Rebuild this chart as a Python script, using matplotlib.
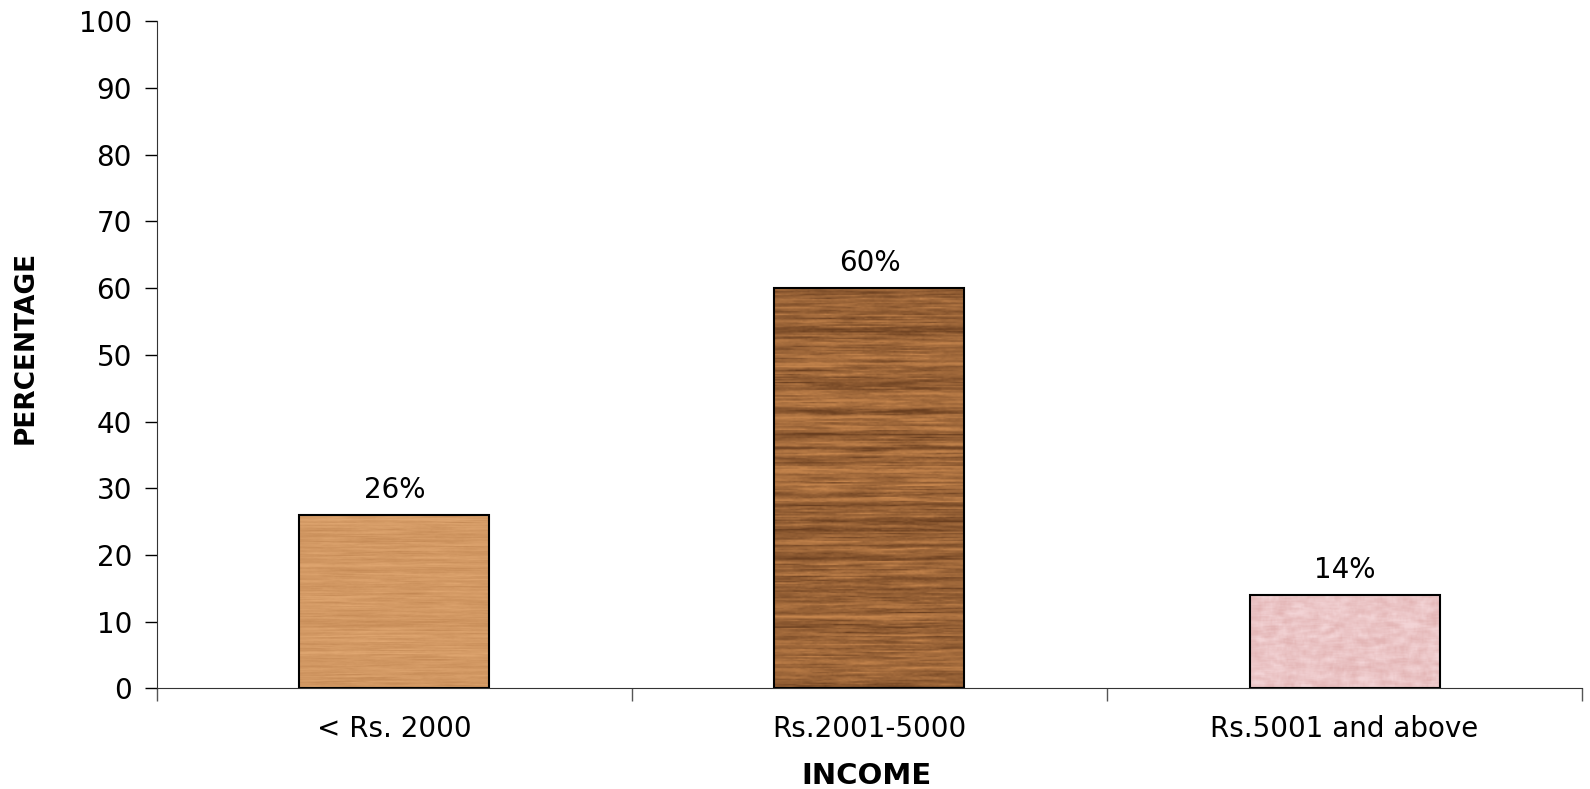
import numpy as np
import matplotlib
matplotlib.use("Agg")
import matplotlib.pyplot as plt

plt.rcParams['font.family'] = ['DejaVu Sans']

# income groups and share of respondents (%)
categories = ["< Rs. 2000", "Rs.2001-5000", "Rs.5001 and above"]
percentages = [26, 60, 14]
yticks = [0, 10, 20, 30, 40, 50, 60, 70, 80, 90, 100]

rng = np.random.default_rng(7)


def smooth(a, k):
    kern = np.ones(k) / k
    return np.convolve(a, kern, mode="same")


def wood_texture(base, dark, rows=300, cols=80, contrast=1.0):
    # horizontal grain: per-row streaks plus some stretched noise along x
    row_prof = smooth(rng.normal(0, 1, rows + 20), 3)[10:-10]
    row_prof = row_prof / np.abs(row_prof).max()
    streak = np.clip(row_prof, -1, 1)[:, None] * np.ones((1, cols))
    noise = rng.normal(0, 1, (rows, cols))
    noise = np.apply_along_axis(lambda r: smooth(r, 15), 1, noise)
    t = 0.45 + 0.35 * contrast * streak + 0.6 * noise
    t = np.clip(t, 0, 1)[..., None]
    base = np.array(matplotlib.colors.to_rgb(base))
    dark = np.array(matplotlib.colors.to_rgb(dark))
    return base * (1 - t) + dark * t


def mottled_texture(base, light, rows=120, cols=120):
    n = rng.normal(0, 1, (rows, cols))
    n = np.apply_along_axis(lambda r: smooth(r, 6), 1, n)
    n = np.apply_along_axis(lambda c: smooth(c, 6), 0, n)
    t = np.clip(0.5 + 1.2 * n, 0, 1)[..., None]
    base = np.array(matplotlib.colors.to_rgb(base))
    light = np.array(matplotlib.colors.to_rgb(light))
    return base * (1 - t) + light * t


textures = [
    wood_texture("#e3aa74", "#bd824e", contrast=0.9),
    wood_texture("#c4844c", "#6a3f20", contrast=1.4),
    mottled_texture("#e3b5b5", "#f3d4d6"),
]

fig = plt.figure(figsize=(15.9, 7.89), dpi=100)
ax = fig.add_axes([0.0987, 0.1274, 0.8963, 0.8456])

x = np.arange(len(categories)) + 0.5
bars = ax.bar(x, percentages, width=0.4, facecolor="none",
              edgecolor="black", linewidth=1.5, zorder=3)

for b, tex in zip(bars, textures):
    x0, w, h = b.get_x(), b.get_width(), b.get_height()
    ax.imshow(tex, extent=[x0, x0 + w, 0, h], aspect="auto",
              interpolation="bilinear", zorder=2)
    ax.annotate(f"{h:g}%", (x0 + w / 2, h), xytext=(0, 8),
                textcoords="offset points", ha="center", va="bottom",
                fontsize=20)

ax.set_xlim(0, 3)
ax.set_ylim(0, 100)
ax.set_yticks(yticks)
ax.tick_params(axis="y", labelsize=20, length=9, width=1, pad=9)

# tick marks at group boundaries, labels in the middle
ax.set_xticks([0, 1, 2, 3])
ax.set_xticklabels([])
ax.set_xticks(x, minor=True)
ax.set_xticklabels(categories, minor=True, fontsize=20)
ax.tick_params(axis="x", which="major", length=9, width=1, color="#555555")
ax.tick_params(axis="x", which="minor", length=0, pad=19)

ax.spines["top"].set_visible(False)
ax.spines["right"].set_visible(False)
ax.spines["left"].set_color("#333333")
ax.spines["bottom"].set_color("#333333")

fig.text(0.545, 0.0165, "INCOME", fontsize=21, fontweight="bold",
         ha="center", va="center")
fig.text(0.016, 0.56, "PERCENTAGE", fontsize=19, fontweight="bold",
         ha="center", va="center", rotation=90)

fig.savefig("out.png", dpi=100)
